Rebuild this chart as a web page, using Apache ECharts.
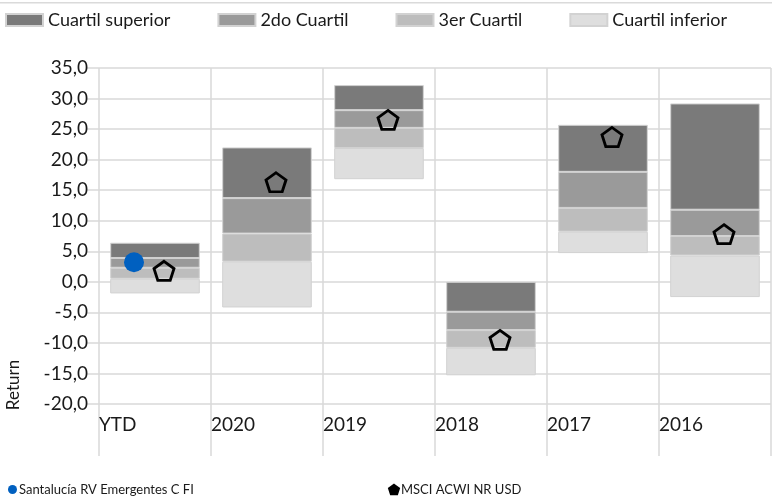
<!DOCTYPE html>
<html>
<head>
<meta charset="utf-8">
<script src="https://cdn.jsdelivr.net/npm/echarts@6/dist/echarts.min.js"></script>
<style>
  html, body { margin: 0; padding: 0; background: #fff; }
  #main { width: 772px; height: 501px; }
</style>
</head>
<body>
<div id="main"></div>
<script>
// datos
var categories = ['YTD', '2020', '2019', '2018', '2017', '2016'];
var minimo    = [-1.9, -4.2, 16.8, -15.3, 4.7, -2.5];
var cuartil3  = [0.5, 3.3, 21.9, -10.8, 8.2, 4.3];
var mediana   = [2.3, 7.9, 25.2, -7.9, 12.1, 7.5];
var cuartil1  = [3.9, 13.7, 28.1, -4.9, 18.0, 11.8];
var maximo    = [6.4, 22.0, 32.2, 0.0, 25.7, 29.2];
var fondo     = [3.2, null, null, null, null, null];
var indice    = [1.8, 16.3, 26.5, -9.5, 23.7, 7.8];
var yMin = -20, yMax = 35, yStep = 5;

var FONT = 'Lato';
var pentagon = 'path://M10,0 L19.5,6.9 L15.9,18.1 L4.1,18.1 L0.5,6.9 Z';

function diff(a, b) {
  return a.map(function (v, i) { return +(v - b[i]).toFixed(2); });
}

var chart = echarts.init(document.getElementById('main'));

function tramo(name, values, color) {
  return {
    name: name,
    type: 'bar',
    stack: 'q',
    stackStrategy: 'all',
    barWidth: '80%',
    itemStyle: { color: color, borderColor: '#d2d2d2', borderWidth: 1 },
    data: values
  };
}

var option = {
  animation: false,
  graphic: [{
    type: 'rect',
    shape: { x: 0, y: 2, width: 772, height: 1.5 },
    style: { fill: '#dadada' }
  }, {
    type: 'text',
    x: 14, y: 385,
    rotation: Math.PI / 2,
    style: {
      text: 'Return', font: '17px ' + FONT, fill: '#1a1a1a',
      textAlign: 'center', textVerticalAlign: 'middle'
    }
  }],
  legend: [{
    data: ['Cuartil superior', '2do Cuartil', '3er Cuartil', 'Cuartil inferior'],
    left: 0, top: 6,
    icon: 'rect',
    itemWidth: 37, itemHeight: 12, itemGap: 47,
    textStyle: { fontFamily: FONT, fontSize: 18, color: '#1a1a1a' }
  }, {
    data: ['Santalucía RV Emergentes C FI'],
    left: 3, bottom: 0,
    itemWidth: 9, itemHeight: 9,
    textStyle: { fontFamily: FONT, fontSize: 13, color: '#1a1a1a', padding: [0, 0, 0, -3] }
  }, {
    data: [{ name: 'MSCI ACWI NR USD', icon: pentagon, itemStyle: { color: '#000', borderColor: '#000' } }],
    left: 383, bottom: 0,
    itemWidth: 10, itemHeight: 10,
    textStyle: { fontFamily: FONT, fontSize: 13, color: '#1a1a1a', padding: [0, 0, 0, -3] }
  }],
  grid: { left: 99, right: 1, top: 68, bottom: 97, outerBoundsMode: 'none' },
  xAxis: [{
    type: 'category',
    data: categories,
    axisLine: { show: false, onZero: false },
    axisTick: { show: false },
    axisLabel: { show: false },
    splitLine: { show: false }
  }, {
    type: 'value',
    min: 0, max: categories.length, interval: 1,
    position: 'bottom',
    axisLine: { show: false, onZero: false },
    axisTick: { show: true, length: 52, lineStyle: { color: '#d9d9d9', width: 1.5 } },
    axisLabel: {
      align: 'left', margin: 11,
      fontFamily: FONT, fontSize: 19, color: '#1a1a1a',
      formatter: function (v) { return categories[v] || ''; }
    },
    splitLine: { show: true, lineStyle: { color: '#d9d9d9', width: 1.5 } }
  }],
  yAxis: {
    type: 'value',
    min: yMin, max: yMax, interval: yStep,
    axisLine: { show: false },
    axisTick: { show: true, length: 12, lineStyle: { color: '#d9d9d9', width: 1.5 } },
    axisLabel: {
      margin: 11, fontFamily: FONT, fontSize: 19, color: '#1a1a1a',
      formatter: function (v) { return v.toFixed(1).replace('.', ','); }
    },
    splitLine: { lineStyle: { color: '#d9d9d9', width: 1.5 } }
  },
  series: [
    {
      name: 'base', type: 'bar', stack: 'q', stackStrategy: 'all', barWidth: '80%',
      itemStyle: { color: 'transparent' }, silent: true,
      data: minimo
    },
    tramo('Cuartil inferior', diff(cuartil3, minimo), '#dedede'),
    tramo('3er Cuartil', diff(mediana, cuartil3), '#bdbdbd'),
    tramo('2do Cuartil', diff(cuartil1, mediana), '#9a9a9a'),
    tramo('Cuartil superior', diff(maximo, cuartil1), '#7a7a7a'),
    {
      name: 'Santalucía RV Emergentes C FI',
      type: 'scatter',
      symbol: 'circle', symbolSize: 20, symbolOffset: [-21, 0],
      itemStyle: { color: '#0060c0', opacity: 1 },
      z: 5,
      data: fondo
    },
    {
      name: 'MSCI ACWI NR USD',
      type: 'scatter',
      symbol: pentagon, symbolSize: [20, 19], symbolOffset: [9, 0],
      itemStyle: { color: 'transparent', borderColor: '#000', borderWidth: 2.8, opacity: 1 },
      z: 5,
      data: indice
    }
  ]
};

chart.setOption(option);
</script>
</body>
</html>
